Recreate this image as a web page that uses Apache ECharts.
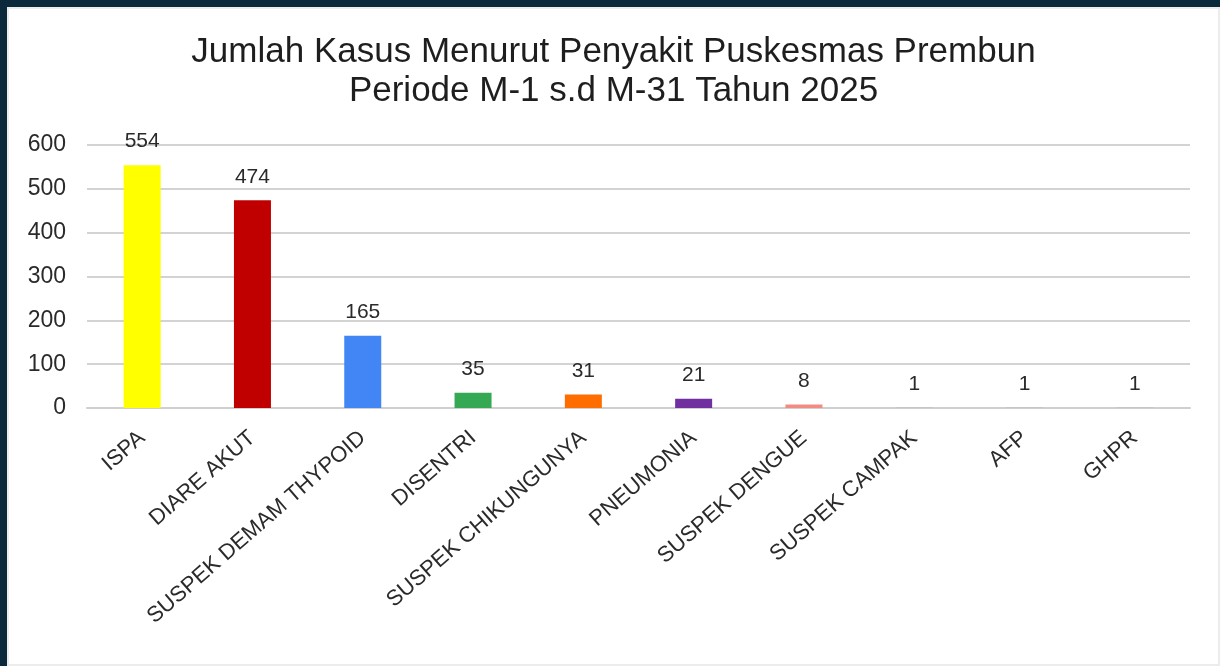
<!DOCTYPE html>
<html><head><meta charset="utf-8">
<script src="https://cdn.jsdelivr.net/npm/echarts@6/dist/echarts.min.js"></script>
<style>
html,body{margin:0;padding:0;background:#0a2a3b;width:1220px;height:666px;overflow:hidden}
#c{position:absolute;left:7px;top:7px;width:1213px;height:659px;background:#fff;box-shadow:inset 2px 2px 0 #ececec, inset -2px -2px 0 #ececec}
</style></head><body><div id="c"></div>
<script>
const categories = ["ISPA","DIARE AKUT","SUSPEK DEMAM THYPOID","DISENTRI","SUSPEK CHIKUNGUNYA","PNEUMONIA","SUSPEK DENGUE","SUSPEK CAMPAK","AFP","GHPR"];
const values = [554,474,165,35,31,21,8,1,1,1];
const barColors = ["#FFFF00","#C00000","#4285F4","#34A853","#FF6D01","#7030A0","#F28B82","#BDBDBD","#BDBDBD","#BDBDBD"];
const yTicks = [0,100,200,300,400,500,600];
const titleLines = ["Jumlah Kasus Menurut Penyakit Puskesmas Prembun","Periode M-1 s.d M-31 Tahun 2025"];

const FF = 'Liberation Sans, Arial, sans-serif';
const chart = echarts.init(document.getElementById('c'));
chart.setOption({
  animation:false,
  title:{text:titleLines.join('\n'),left:'center',top:21,
    textStyle:{fontFamily:FF,fontSize:35,fontWeight:'normal',color:'#1e1e1e',lineHeight:39}},
  grid:{left:80,right:30,top:138,bottom:258},
  xAxis:{type:'category',data:categories,
    axisLine:{lineStyle:{color:'#cfcfcf',width:2}},axisTick:{show:false},
    axisLabel:{rotate:41,interval:0,margin:27,fontSize:22,color:'#2a2a2a',fontFamily:FF}},
  yAxis:{type:'value',min:yTicks[0],max:yTicks[yTicks.length-1],interval:100,
    axisLine:{show:false},axisTick:{show:false},
    splitLine:{lineStyle:{color:'#d3d3d3',width:2}},
    axisLabel:{margin:21,fontSize:23,color:'#2a2a2a',fontFamily:FF}},
  series:[{type:'bar',barWidth:37,
    data:values.map((v,i)=>({value:v,itemStyle:{color:barColors[i]}})),
    label:{show:true,position:'top',distance:13,fontSize:21,color:'#2a2a2a',fontFamily:FF}}]
});
</script></body></html>
